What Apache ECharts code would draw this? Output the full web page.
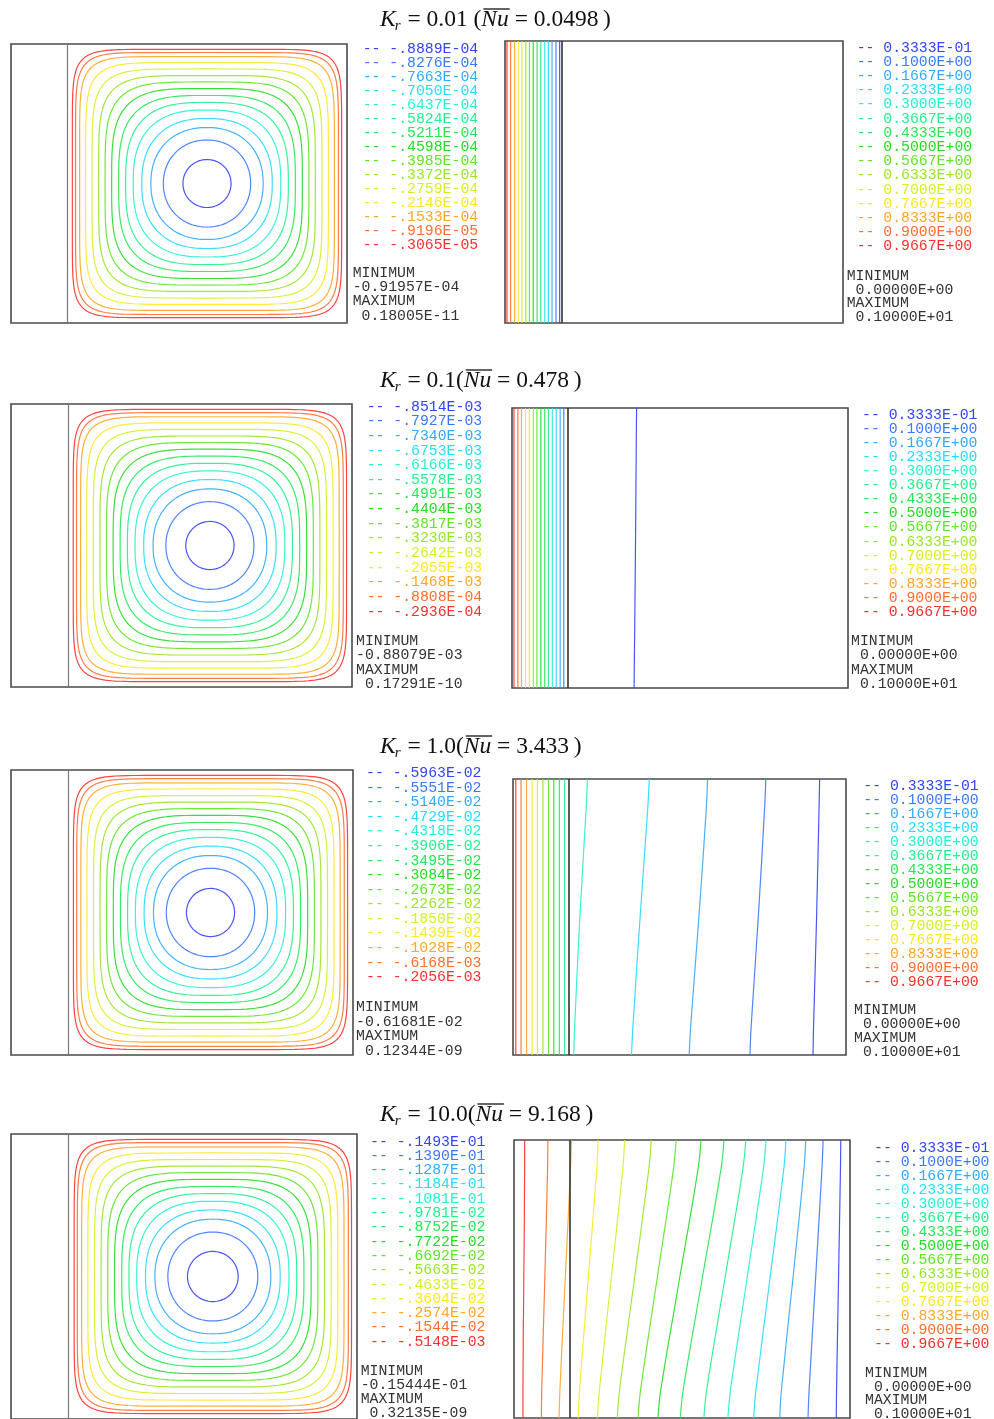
<!DOCTYPE html>
<html>
<head>
<meta charset="utf-8">
<script src="https://cdn.jsdelivr.net/npm/echarts@6/dist/echarts.min.js"></script>
<style>
  html, body { margin: 0; padding: 0; background: #ffffff; }
  #main { width: 994px; height: 1419px; }
</style>
</head>
<body>
<div id="main"></div>
<script>
// ---------------------------------------------------------------
// Case parameters (conductivity ratio and mean Nusselt number)
// ---------------------------------------------------------------
const caseKr = ['0.01', '0.1', '1.0', '10.0'];
const caseNu = ['0.0498', '0.478', '3.433', '9.168'];
const caseNuSep = [' (', '(', '(', '('];   // text between Kr value and "("

// Solid wall thickness and fluid cavity size (domain units)
const wallThickness = 0.2;
const cavityWidth = 1.2;

// ---------------------------------------------------------------
// Streamline contour levels (innermost loop first)
// ---------------------------------------------------------------
const psiLabels1 = ['-.8889E-04', '-.8276E-04', '-.7663E-04', '-.7050E-04', '-.6437E-04', '-.5824E-04', '-.5211E-04', '-.4598E-04', '-.3985E-04', '-.3372E-04', '-.2759E-04', '-.2146E-04', '-.1533E-04', '-.9196E-05', '-.3065E-05'];
const psiLabels2 = ['-.8514E-03', '-.7927E-03', '-.7340E-03', '-.6753E-03', '-.6166E-03', '-.5578E-03', '-.4991E-03', '-.4404E-03', '-.3817E-03', '-.3230E-03', '-.2642E-03', '-.2055E-03', '-.1468E-03', '-.8808E-04', '-.2936E-04'];
const psiLabels3 = ['-.5963E-02', '-.5551E-02', '-.5140E-02', '-.4729E-02', '-.4318E-02', '-.3906E-02', '-.3495E-02', '-.3084E-02', '-.2673E-02', '-.2262E-02', '-.1850E-02', '-.1439E-02', '-.1028E-02', '-.6168E-03', '-.2056E-03'];
const psiLabels4 = ['-.1493E-01', '-.1390E-01', '-.1287E-01', '-.1184E-01', '-.1081E-01', '-.9781E-02', '-.8752E-02', '-.7722E-02', '-.6692E-02', '-.5663E-02', '-.4633E-02', '-.3604E-02', '-.2574E-02', '-.1544E-02', '-.5148E-03'];
const psiMin = ['-0.91957E-04', '-0.88079E-03', '-0.61681E-02', '-0.15444E-01'];
const psiMax = [' 0.18005E-11', ' 0.17291E-10', ' 0.12344E-09', ' 0.32135E-09'];

// Half-size of each closed streamline, as a fraction of the cavity half-width
const psiSize1 = [0.172, 0.312, 0.401, 0.466, 0.527, 0.581, 0.631, 0.681, 0.728, 0.774, 0.821, 0.867, 0.910, 0.939, 0.962];
const psiSize2 = [0.170, 0.310, 0.400, 0.466, 0.527, 0.581, 0.632, 0.681, 0.728, 0.774, 0.821, 0.867, 0.910, 0.939, 0.962];
const psiSize3 = [0.169, 0.310, 0.400, 0.466, 0.527, 0.582, 0.632, 0.682, 0.729, 0.775, 0.821, 0.867, 0.910, 0.939, 0.962];
const psiSize4 = [0.176, 0.312, 0.402, 0.467, 0.528, 0.582, 0.632, 0.682, 0.729, 0.775, 0.821, 0.867, 0.910, 0.940, 0.962];

// ---------------------------------------------------------------
// Isotherm levels (coldest first) and their x positions
// sampled at the heights in thetaY
// ---------------------------------------------------------------
const thetaLabels = ['0.3333E-01', '0.1000E+00', '0.1667E+00', '0.2333E+00', '0.3000E+00', '0.3667E+00', '0.4333E+00', '0.5000E+00', '0.5667E+00', '0.6333E+00', '0.7000E+00', '0.7667E+00', '0.8333E+00', '0.9000E+00', '0.9667E+00'];
const thetaMin = ' 0.00000E+00';
const thetaMax = ' 0.10000E+01';
const thetaY = [0, 0.1, 0.5, 0.9, 1];

const thetaX1 = [
  [0.194, 0.194, 0.194, 0.194, 0.194], [0.181, 0.181, 0.181, 0.181, 0.181], [0.167, 0.167, 0.167, 0.167, 0.167],
  [0.154, 0.154, 0.154, 0.154, 0.154], [0.141, 0.141, 0.141, 0.141, 0.141], [0.127, 0.127, 0.127, 0.127, 0.127],
  [0.114, 0.114, 0.114, 0.114, 0.114], [0.100, 0.100, 0.100, 0.100, 0.100], [0.087, 0.087, 0.087, 0.087, 0.087],
  [0.074, 0.074, 0.074, 0.074, 0.074], [0.060, 0.060, 0.060, 0.060, 0.060], [0.047, 0.047, 0.047, 0.047, 0.047],
  [0.034, 0.034, 0.034, 0.034, 0.034], [0.020, 0.020, 0.020, 0.020, 0.020], [0.007, 0.007, 0.007, 0.007, 0.007]
];
const thetaX2 = [
  [0.436, 0.437, 0.441, 0.444, 0.445], [0.185, 0.185, 0.185, 0.185, 0.185], [0.172, 0.172, 0.172, 0.172, 0.172],
  [0.158, 0.158, 0.158, 0.158, 0.158], [0.144, 0.144, 0.144, 0.144, 0.144], [0.130, 0.130, 0.130, 0.130, 0.130],
  [0.117, 0.117, 0.117, 0.117, 0.117], [0.103, 0.103, 0.103, 0.103, 0.103], [0.089, 0.089, 0.089, 0.089, 0.089],
  [0.076, 0.076, 0.076, 0.076, 0.076], [0.062, 0.062, 0.062, 0.062, 0.062], [0.048, 0.048, 0.048, 0.048, 0.048],
  [0.034, 0.034, 0.034, 0.034, 0.034], [0.021, 0.021, 0.021, 0.021, 0.021], [0.007, 0.007, 0.007, 0.007, 0.007]
];
const thetaX3 = [
  [1.081, 1.083, 1.094, 1.103, 1.105], [0.854, 0.858, 0.884, 0.907, 0.911], [0.635, 0.640, 0.670, 0.697, 0.701],
  [0.427, 0.432, 0.458, 0.486, 0.491], [0.219, 0.222, 0.241, 0.264, 0.268], [0.186, 0.186, 0.186, 0.186, 0.186],
  [0.167, 0.167, 0.167, 0.167, 0.167], [0.147, 0.147, 0.147, 0.147, 0.147], [0.128, 0.128, 0.128, 0.128, 0.128],
  [0.108, 0.108, 0.108, 0.108, 0.108], [0.088, 0.088, 0.088, 0.088, 0.088], [0.069, 0.069, 0.069, 0.069, 0.069],
  [0.049, 0.049, 0.049, 0.049, 0.049], [0.029, 0.029, 0.029, 0.029, 0.029], [0.010, 0.010, 0.010, 0.010, 0.010]
];
const thetaX4 = [
  [1.151, 1.152, 1.159, 1.166, 1.167], [1.050, 1.054, 1.077, 1.100, 1.104], [0.949, 0.955, 0.996, 1.036, 1.042],
  [0.856, 0.864, 0.914, 0.964, 0.971], [0.764, 0.773, 0.832, 0.891, 0.900], [0.678, 0.688, 0.753, 0.818, 0.828],
  [0.594, 0.604, 0.672, 0.740, 0.750], [0.514, 0.524, 0.591, 0.658, 0.668], [0.443, 0.452, 0.511, 0.570, 0.579],
  [0.369, 0.377, 0.430, 0.482, 0.490], [0.298, 0.305, 0.347, 0.389, 0.395], [0.229, 0.234, 0.265, 0.296, 0.300],
  [0.161, 0.164, 0.183, 0.202, 0.205], [0.098, 0.099, 0.110, 0.120, 0.121], [0.032, 0.032, 0.035, 0.038, 0.038]
];

// ---------------------------------------------------------------
// Styling and layout
// ---------------------------------------------------------------
const levelColors = ['#3343ff', '#3b78ff', '#30aaff', '#22ddff', '#22f2d0', '#22f090', '#22e855', '#22dd22',
                     '#5fe622', '#99e622', '#d4f022', '#ffe81e', '#ffa622', '#ff6e2e', '#ff2e2e'];

const cases = [
  { psiLabels: psiLabels1, psiSize: psiSize1, thetaX: thetaX1 },
  { psiLabels: psiLabels2, psiSize: psiSize2, thetaX: thetaX2 },
  { psiLabels: psiLabels3, psiSize: psiSize3, thetaX: thetaX3 },
  { psiLabels: psiLabels4, psiSize: psiSize4, thetaX: thetaX4 }
];

// plot boxes [left, top, width, height] in px
const leftBox  = [[11, 44, 336, 279], [11, 404, 341, 283], [11, 770, 342, 285], [11, 1134, 346, 288]];
const rightBox = [[505, 41, 338, 282], [512, 408, 336, 280], [513, 779, 333, 276], [514, 1140, 336, 278]];
// legend placement: x of first char, y of first line, line step; then min/max block x, y, step
const leftLegend  = [[362.7, 49, 14.0, 352.7, 273.3, 14.1], [366.7, 406.7, 14.64, 356, 640.7, 14.5], [366, 773.3, 14.57, 356, 1007.3, 14.5], [370, 1141.7, 14.29, 360.7, 1370.7, 14.2]];
const rightLegend = [[856.7, 47.7, 14.2, 846.7, 275.7, 13.9], [862, 415, 14.07, 851, 641, 14.3], [863.3, 786, 13.98, 854, 1010, 14.1], [874, 1147.7, 14.04, 865, 1372.7, 13.9]];
const titleY = [20, 381, 747, 1115];
const titleX = 380;

const MONO = '"Liberation Mono", "DejaVu Sans Mono", monospace';
const SERIF = '"Liberation Serif", "DejaVu Serif", serif';

// closed rounded loop: circle near the centre, squarer towards the walls
function streamLoop(size) {
  const n = 2 + 8 * Math.pow(size, 4);
  const a = size * 0.5;
  const cx = wallThickness + 0.5, cy = 0.5;
  const pts = [];
  for (let i = 0; i <= 160; i++) {
    const t = i / 160 * 2 * Math.PI;
    const c = Math.cos(t), s = Math.sin(t);
    pts.push([cx + a * Math.sign(c) * Math.pow(Math.abs(c), 2 / n),
              cy + a * Math.sign(s) * Math.pow(Math.abs(s), 2 / n)]);
  }
  return pts;
}

const grid = [], xAxis = [], yAxis = [], series = [], graphic = [];

function addPanel(box, wallColor, wallWidth) {
  const idx = grid.length;
  grid.push({ left: box[0], top: box[1], width: box[2], height: box[3], show: true,
              borderColor: '#4a4a4a', borderWidth: 1.6, backgroundColor: 'transparent', containLabel: false });
  xAxis.push({ type: 'value', gridIndex: idx, min: 0, max: cavityWidth, show: false });
  yAxis.push({ type: 'value', gridIndex: idx, min: 0, max: 1, show: false });
  // solid / fluid interface
  series.push({
    type: 'line', xAxisIndex: idx, yAxisIndex: idx, data: [], silent: true,
    markLine: { silent: true, symbol: 'none', label: { show: false },
                lineStyle: { color: wallColor, width: wallWidth, type: 'solid' },
                data: [{ xAxis: wallThickness }], animation: false }
  });
  return idx;
}

function addText(x, y, text, color, font) {
  graphic.push({ type: 'text', x: x, y: y, silent: true,
                 style: { text: text, fill: color, font: font, align: 'left', verticalAlign: 'middle' } });
}

const measureCtx = document.createElement('canvas').getContext('2d');
function textWidth(text, font) { measureCtx.font = font; return measureCtx.measureText(text).width; }

cases.forEach((cs, r) => {
  // --- streamlines ---
  const li = addPanel(leftBox[r], '#777777', 1.2);
  cs.psiSize.forEach((s, k) => {
    series.push({ type: 'line', xAxisIndex: li, yAxisIndex: li, data: streamLoop(s),
                  showSymbol: false, symbol: 'none', silent: true, animation: false,
                  lineStyle: { color: levelColors[k], width: 1.2, opacity: 0.9 } });
  });
  // --- isotherms ---
  const ri = addPanel(rightBox[r], '#333333', 1.6);
  cs.thetaX.forEach((xs, k) => {
    series.push({ type: 'line', xAxisIndex: ri, yAxisIndex: ri, data: thetaY.map((y, j) => [xs[j], y]),
                  showSymbol: false, symbol: 'none', silent: true, animation: false, smooth: 0.35,
                  lineStyle: { color: levelColors[k], width: 1.2, opacity: 0.9 } });
  });

  // --- legends ---
  const font = '14.8px ' + MONO;
  const L = leftLegend[r];
  cs.psiLabels.forEach((lab, k) => addText(L[0], L[1] + k * L[2], '-- ' + lab, levelColors[k], font));
  addText(L[3], L[4], 'MINIMUM', '#333', font);
  addText(L[3], L[4] + L[5], psiMin[r], '#333', font);
  addText(L[3], L[4] + 2 * L[5], 'MAXIMUM', '#333', font);
  addText(L[3], L[4] + 3 * L[5], psiMax[r], '#333', font);

  const R = rightLegend[r];
  thetaLabels.forEach((lab, k) => addText(R[0], R[1] + k * R[2], '-- ' + lab, levelColors[k], font));
  addText(R[3], R[4], 'MINIMUM', '#333', font);
  addText(R[3], R[4] + R[5], thetaMin, '#333', font);
  addText(R[3], R[4] + 2 * R[5], 'MAXIMUM', '#333', font);
  addText(R[3], R[4] + 3 * R[5], thetaMax, '#333', font);

  // --- title: K_r = value (Nu-bar = value) ---
  const fIt = 'italic 23.5px ' + SERIF, fRm = '23.5px ' + SERIF, fSub = 'italic 15px ' + SERIF;
  const eq = '=';
  const y = titleY[r];
  let x = titleX;
  addText(x, y, 'K', '#111', fIt); x += textWidth('K', fIt) - 1;
  addText(x, y + 6, 'r', '#111', fSub); x += textWidth('r', fSub) + 1;
  const mid = ' ' + eq + ' ' + caseKr[r] + caseNuSep[r];
  addText(x, y, mid, '#111', fRm); x += textWidth(mid, fRm);
  const nuW = textWidth('Nu', fIt);
  addText(x, y, 'Nu', '#111', fIt);
  graphic.push({ type: 'line', silent: true, shape: { x1: x + 2, y1: y - 11, x2: x + nuW + 1, y2: y - 11 },
                 style: { stroke: '#111', lineWidth: 1.3 } });
  x += nuW;
  addText(x, y, ' ' + eq + ' ' + caseNu[r] + '\u2009)', '#111', fRm);
});

const chart = echarts.init(document.getElementById('main'), null, { renderer: 'canvas', width: 994, height: 1419 });
chart.setOption({
  animation: false,
  backgroundColor: '#ffffff',
  grid: grid, xAxis: xAxis, yAxis: yAxis, series: series, graphic: graphic
});
</script>
</body>
</html>
